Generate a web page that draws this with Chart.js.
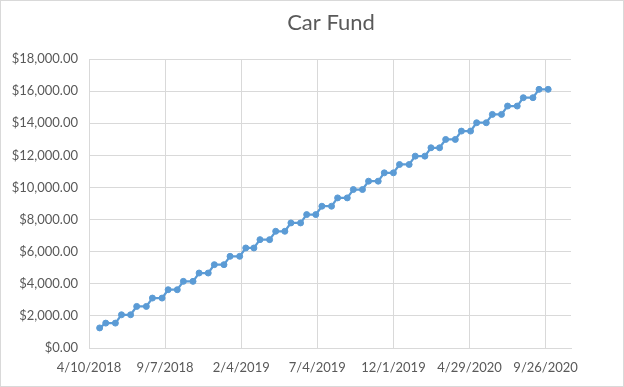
<!DOCTYPE html>
<html>
<head>
<meta charset="utf-8">
<script src="https://cdn.jsdelivr.net/npm/chart.js@4/dist/chart.umd.min.js"></script>
<style>
  html, body { margin: 0; padding: 0; background: #fff; }
  canvas { display: block; }
</style>
</head>
<body>
<canvas id="fundChart" width="624" height="387"></canvas>
<script>
// === Chart data ===
const chartTitle = "Car Fund";
const axisStart = "2018-04-10";   // first date on the x axis
const axisEndDays = 950;          // axis runs a bit past the last tick
const tickStepDays = 150;

const depositDates = [
  "2018-05-01", "2018-05-13", "2018-06-01", "2018-06-13", "2018-07-01", "2018-07-13",
  "2018-08-01", "2018-08-13", "2018-09-01", "2018-09-13", "2018-10-01", "2018-10-13",
  "2018-11-01", "2018-11-13", "2018-12-01", "2018-12-13", "2019-01-01", "2019-01-13",
  "2019-02-01", "2019-02-13", "2019-03-01", "2019-03-13", "2019-04-01", "2019-04-13",
  "2019-05-01", "2019-05-13", "2019-06-01", "2019-06-13", "2019-07-01", "2019-07-13",
  "2019-08-01", "2019-08-13", "2019-09-01", "2019-09-13", "2019-10-01", "2019-10-13",
  "2019-11-01", "2019-11-13", "2019-12-01", "2019-12-13", "2020-01-01", "2020-01-13",
  "2020-02-01", "2020-02-13", "2020-03-01", "2020-03-13", "2020-04-01", "2020-04-13",
  "2020-05-01", "2020-05-13", "2020-06-01", "2020-06-13", "2020-07-01", "2020-07-13",
  "2020-08-01", "2020-08-13", "2020-09-01", "2020-09-13", "2020-10-01"
];

const balances = [
  1250, 1550, 1550, 2070, 2070, 2590,
  2590, 3110, 3110, 3630, 3630, 4150,
  4150, 4670, 4670, 5190, 5190, 5710,
  5710, 6230, 6230, 6750, 6750, 7270,
  7270, 7790, 7790, 8310, 8310, 8830,
  8830, 9350, 9350, 9870, 9870, 10390,
  10390, 10910, 10910, 11430, 11430, 11950,
  11950, 12470, 12470, 12990, 12990, 13510,
  13510, 14030, 14030, 14550, 14550, 15070,
  15070, 15590, 15590, 16110, 16110
];

const yMax = 18000;
const yStep = 2000;

// === Helpers ===
const DAY = 86400000;
const startMs = Date.parse(axisStart);

function toDays(dateStr) {
  return Math.round((Date.parse(dateStr) - startMs) / DAY);
}

function dayLabel(days) {
  const d = new Date(startMs + days * DAY);
  return (d.getUTCMonth() + 1) + "/" + d.getUTCDate() + "/" + d.getUTCFullYear();
}

function money(v) {
  const whole = Math.round(v).toString().replace(/\B(?=(\d{3})+(?!\d))/g, ",");
  return "$" + whole + ".00";
}

const points = depositDates.map((d, i) => ({ x: toDays(d), y: balances[i] }));

// === Title + outer frame, drawn by hand so they sit where Excel put them ===
const frameAndTitle = {
  id: "frameAndTitle",
  afterDraw(chart) {
    const c = chart.ctx;
    c.save();
    c.strokeStyle = "#d9d9d9";
    c.lineWidth = 1;
    c.strokeRect(0.5, 0.5, chart.width - 1, chart.height - 1);
    c.fillStyle = "#595959";
    c.font = "22px Lato";
    c.textAlign = "center";
    c.textBaseline = "middle";
    c.fillText(chartTitle, 331, 23);
    c.restore();
  }
};

const tickFont = { family: "Lato", size: 13 };

new Chart(document.getElementById("fundChart").getContext("2d"), {
  type: "line",
  data: {
    datasets: [{
      data: points,
      borderColor: "#5B9BD5",
      backgroundColor: "#5B9BD5",
      borderWidth: 2.25,
      pointRadius: 3,
      pointBorderWidth: 1,
      tension: 0,
      fill: false
    }]
  },
  options: {
    responsive: false,
    animation: false,
    layout: { padding: { top: 59, right: 53, bottom: 0, left: 0 } },
    plugins: {
      legend: { display: false },
      title: { display: false },
      tooltip: { enabled: false }
    },
    scales: {
      x: {
        type: "linear",
        min: 0,
        max: axisEndDays,
        afterFit: s => { s.height = 39; },
        grid: { color: "#d9d9d9", drawTicks: false },
        border: { display: true, color: "#d9d9d9" },
        ticks: {
          stepSize: tickStepDays,
          includeBounds: false,
          maxRotation: 0,
          autoSkip: false,
          padding: 12,
          color: "#595959",
          font: tickFont,
          callback: v => dayLabel(v)
        }
      },
      y: {
        min: 0,
        max: yMax,
        afterFit: s => { s.width = 89; },
        grid: { color: "#d9d9d9", drawTicks: false },
        border: { display: false },
        ticks: {
          stepSize: yStep,
          padding: 11,
          color: "#595959",
          font: tickFont,
          callback: v => money(v)
        }
      }
    }
  },
  plugins: [frameAndTitle]
});
</script>
</body>
</html>
